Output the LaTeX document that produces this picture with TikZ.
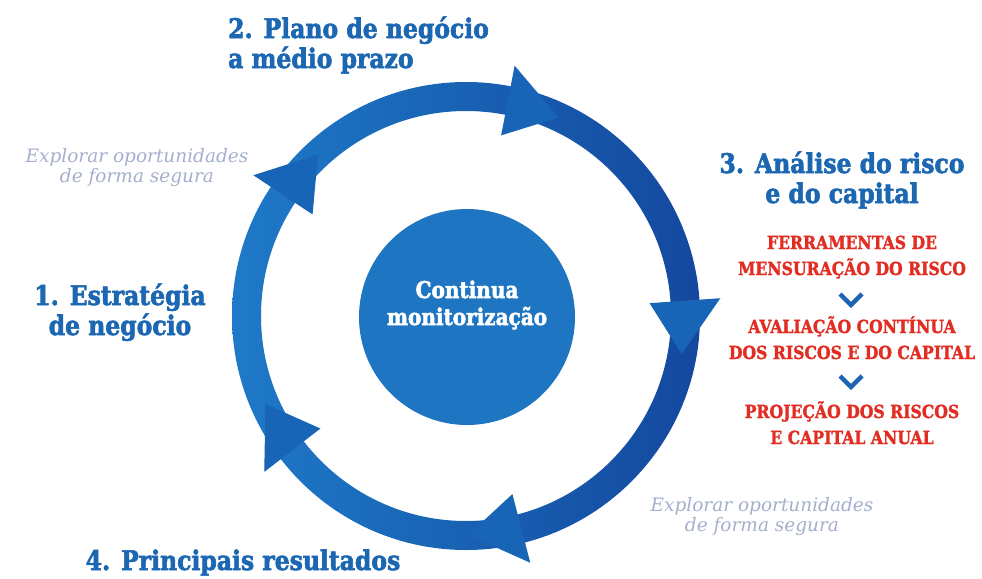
\documentclass[tikz,border=0pt]{standalone}
\usepackage{fontspec}
\setmainfont{DejaVu Serif}
\newfontfamily\headfont[FakeStretch=0.87,BoldFeatures={FakeBold=2.2}]{DejaVu Serif}
\newfontfamily\redfont[FakeStretch=0.87,BoldFeatures={FakeBold=1.6}]{DejaVu Serif}
\newfontfamily\notefont{DejaVu Serif}
\usetikzlibrary{calc}
\definecolor{headblue}{RGB}{28,103,178}
\definecolor{redtxt}{RGB}{226,45,35}
\definecolor{notegrey}{RGB}{165,175,205}
\definecolor{ringL}{RGB}{30,122,200}
\definecolor{ringR}{RGB}{20,72,158}
\definecolor{arrowblue}{RGB}{24,100,182}
\definecolor{innerblue}{RGB}{30,117,193}
\definecolor{chevblue}{RGB}{30,100,180}
\begin{document}
\begin{tikzpicture}[x=1pt,y=-1pt,
  head/.style={font=\headfont\bfseries\fontsize{27}{30}\selectfont, text=headblue, align=center, inner sep=0pt, anchor=base},
  redline/.style={font=\redfont\bfseries\fontsize{18}{26}\selectfont, text=redtxt, align=center, inner sep=0pt, anchor=base},
  note/.style={font=\notefont\itshape\fontsize{18.5}{19.5}\selectfont, text=notegrey, align=center, inner sep=0pt, anchor=base},
  ctext/.style={font=\headfont\bfseries\fontsize{23}{27}\selectfont, text=white, align=center, inner sep=0pt, anchor=base},
  chev/.style={draw=chevblue, line width=4.5pt, line cap=butt, line join=miter},
  arrowhd/.style={fill=arrowblue}]
\useasboundingbox (0,0) rectangle (982,578);
\coordinate (c) at (466,316);
% ring
\shade[even odd rule, left color=ringL, middle color=ringL, right color=ringR]
  (c) circle[radius=234] (c) circle[radius=205];
% arrowheads (base angle, clockwise)
\foreach \t in {-146.5,-79,-4,75.4,142.3}{
  \fill[arrowhd] ([shift={(\t:255)}]c) -- ([shift={(\t+14:219)}]c) -- ([shift={(\t:184)}]c) -- cycle;
}
% centre disc
\node[circle, fill=innerblue, minimum size=216pt, inner sep=0pt] (disc) at (467,317) {};
\node[ctext] (mon) at (467,325) {Continua\\monitorização};
% headings (anchor = baseline of last line)
\node[head] (h1) at (120,335) {1. Estratégia\\de negócio};
\node[head, align=left, anchor=base west] (h2) at (228,68) {2. Plano de negócio\\a médio prazo};
\node[head] (h3) at (842,203) {3. Análise do risco\\e do capital};
\node[head] (h4) at (243,570) {4. Principais resultados};
% notes
\node[note] (n1) at (137,182) {Explorar oportunidades\\de forma segura};
\node[note] (n2) at (762,531) {Explorar oportunidades\\de forma segura};
% red list
\node[redline] (r1) at (852,275) {FERRAMENTAS DE\\MENSURAÇÃO DO RISCO};
\node[redline] (r2) at (852,359) {AVALIAÇÃO CONTÍNUA\\DOS RISCOS E DO CAPITAL};
\node[redline] (r3) at (852,444) {PROJEÇÃO DOS RISCOS\\E CAPITAL ANUAL};
\coordinate (v1) at (851,305);
\coordinate (v2) at (851,387);
\draw[chev] ($(v1)+(-11,-11)$) -- (v1) -- ($(v1)+(11,-11)$);
\draw[chev] ($(v2)+(-11,-11)$) -- (v2) -- ($(v2)+(11,-11)$);
\end{tikzpicture}
\end{document}
